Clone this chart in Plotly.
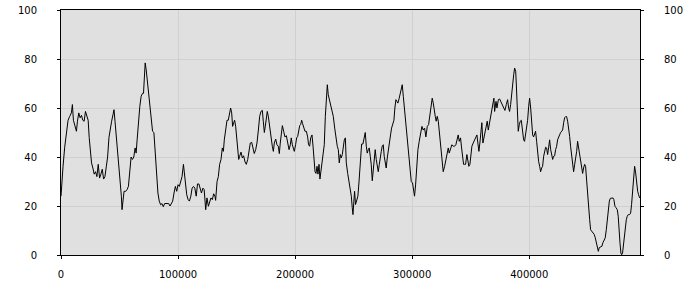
import plotly.graph_objects as go

# x positions in thousands, values 0-100
x_a = [0, 0.86, 1.72, 3.15, 4.58, 6.02, 7.45, 8.88, 9.74, 10.6, 11.75, 13.18, 14.04, 15.18, 16.33, 17.48, 18.62, 19.77, 20.91, 22.06, 23.2, 24.07, 24.93, 26.07, 27.22, 28.36, 29.51, 30.66, 31.8, 32.95, 34.09, 35.24, 36.39, 37.53, 38.68, 39.82, 40.97, 42.12, 43.26, 44.41, 45.27, 46.13, 47.27, 48.42, 49.56, 50.71, 51.57, 52.14, 53.0, 53.86, 55.29, 56.44, 57.59, 58.73, 59.88, 61.02, 62.17, 63.32, 64.18, 65.04, 66.18, 67.33, 68.47, 69.62, 70.48, 71.34, 71.91, 72.77, 73.63, 74.78, 75.92, 77.07, 78.21, 79.36, 80.51, 81.65, 82.8, 83.94, 85.09, 86.24, 87.38, 88.53, 89.67, 90.82, 91.97, 93.11, 94.26, 95.4, 96.55, 97.7, 98.84, 99.99, 101.1, 102.3, 103.4, 104.6, 105.4, 106.3, 107.4, 108.6, 109.7, 110.9, 112.0, 113.2, 114.3, 115.5, 116.6, 117.8, 118.9, 120.0, 121.2, 122.3]
y_a = [24, 31, 36, 44, 50, 55, 56.6, 58, 61.4, 55, 53, 50.5, 54.6, 58, 56, 57, 55, 54.6, 58.6, 56.6, 55, 48, 41.6, 37.6, 35.5, 33, 34, 32, 37, 31.4, 33, 35, 31, 32, 36, 40, 48, 52.5, 54.6, 57.3, 59.3, 54.6, 48, 44, 37.6, 31, 24, 18.5, 22.6, 26, 26, 26.7, 28, 35, 40, 39, 40, 43.7, 41.6, 47, 55, 60.7, 64.8, 66, 66, 74, 78.4, 75.6, 71.6, 66, 60, 55, 50.5, 50, 40, 31, 25.3, 22, 20.5, 21, 19.7, 21, 21, 21, 21, 20, 21, 22, 25.3, 28, 26, 28.7, 28, 30, 32, 37, 34, 29, 24.6, 22.6, 22, 24, 27.3, 28, 27.3, 24, 29, 29, 26.7, 25.3, 27.3, 26.7]

x_b = [123.6, 124.7, 125.9, 127.0, 128.1, 129.3, 130.4, 131.5, 132.1, 133.3, 134.4, 135.5, 136.7, 137.8, 138.7, 139.5, 140.7, 141.8, 142.9, 144.1, 144.9, 145.8, 146.6, 147.5, 148.3, 149.2, 150.1, 150.9, 151.8, 152.6, 153.8, 154.9, 156.0, 157.2, 158.3, 159.5, 160.6, 161.7, 162.9, 164.0, 165.1, 166.3, 167.4, 168.6, 169.7, 170.8, 172.0, 172.8, 173.7, 174.5, 175.4, 176.2, 177.1, 178.2, 179.4, 180.5, 181.4, 182.2, 183.4, 184.5, 185.6, 186.5, 187.3, 188.2, 189.1, 190.2, 191.3, 192.5, 193.6, 194.8, 195.9, 196.7, 197.6, 198.5, 199.3, 200.4, 201.3, 202.2, 203.0, 203.9, 204.7, 205.6, 206.4, 207.3, 208.4, 209.6, 210.7, 211.5, 212.4, 213.3, 214.4, 215.3, 216.1, 217.0, 217.8, 218.7, 219.5, 220.4, 221.2, 222.1, 222.9, 223.8, 224.9, 225.8, 226.6, 227.5, 228.3, 229.2, 230.3, 231.5, 232.6, 233.8, 234.9, 236.0, 236.9, 237.7, 238.6, 239.4, 240.3, 241.2, 242.0, 242.9, 243.7, 244.9, 246.0]
y_b = [18.5, 23.3, 19.9, 21.9, 23.3, 22.6, 25, 24, 22.3, 30, 32, 37, 39, 43.7, 42.3, 47, 51, 55, 55, 58, 60, 58, 52.5, 54, 55, 52.5, 47, 41, 39, 40.3, 42, 39.6, 40.5, 38, 37, 39, 42.3, 45.7, 46, 43, 41.4, 43, 45.7, 51, 56.6, 58.6, 59, 54.6, 50, 52.5, 57.3, 58.6, 56.6, 51.8, 48.4, 44.4, 42.3, 45.7, 47.3, 45, 44.4, 41.4, 45.7, 50, 52.8, 50.5, 48.2, 48.7, 46.4, 43, 45, 47.8, 45, 43, 42.3, 45, 47.8, 48.4, 50.5, 52.8, 53.2, 55, 53.6, 51.8, 50.5, 50.5, 48.2, 45, 44.4, 47.8, 49, 44.4, 37, 34, 33.3, 36.2, 33, 37, 31, 34, 37, 40.3, 45, 56.6, 63.4, 69.5, 65.4, 63.4, 62, 58.6, 56.6, 51.8, 47.8, 44.4, 43, 37.6, 41, 39.6, 41, 45, 47, 47.8, 37.6, 33.3, 30]

x_c = [246.8, 248.0, 248.8, 249.4, 250.2, 250.8, 251.6, 252.8, 253.6, 254.5, 255.3, 255.9, 256.8, 257.9, 259.1, 259.9, 260.8, 261.6, 262.5, 263.3, 264.2, 265.0, 265.9, 266.7, 267.6, 268.4, 269.3, 270.2, 271.0, 271.9, 272.7, 273.6, 274.4, 275.3, 276.1, 277.0, 277.8, 278.7, 279.5, 280.4, 281.5, 282.4, 283.5, 284.4, 285.2, 286.1, 286.9, 287.8, 288.9, 289.8, 290.7, 291.5, 292.4, 293.5, 294.6, 295.8, 296.9, 298.1, 299.2, 300.3, 301.2, 302.0, 302.9, 303.7, 304.9, 306.0, 307.2, 308.3, 309.4, 310.6, 311.7, 312.9, 314.0, 315.1, 316.3, 317.1, 318.0, 318.8, 319.7, 320.5, 321.4, 322.3, 323.1, 324.0, 324.8, 325.7, 326.5, 327.7, 328.8, 329.9, 330.8, 331.6, 332.8, 333.9, 335.1, 336.2, 337.3, 338.5, 339.3, 340.2, 341.3, 342.2, 343.0, 343.9, 344.7, 345.6, 346.7, 347.6, 348.4, 349.3, 350.1, 351.0, 352.1, 353.3, 354.4, 355.3, 356.1, 357.0, 357.8, 358.7, 359.5, 360.4, 361.3, 362.1, 363.0, 364.1, 365.0, 365.8, 366.7, 367.5, 368.4, 369.2, 369.8]
y_c = [26.7, 24, 19.3, 16.5, 22, 26, 20.6, 22.6, 24, 29.4, 37, 41.6, 45.3, 45.3, 47.8, 50, 44.4, 41.6, 43, 43.7, 40.3, 37, 30.3, 35.5, 40.3, 43, 39, 37, 34, 37, 40.3, 42.3, 44.4, 45, 40.3, 37, 35.5, 39.6, 43, 47, 49, 51.8, 53.2, 55, 60, 63.4, 62.7, 62, 64, 66, 66.8, 69.5, 64.8, 59.3, 52.5, 45.7, 40.3, 33.5, 30, 29.4, 26.7, 24, 28.6, 36.2, 43, 46.4, 49, 52.5, 51, 51.8, 48.2, 52.5, 53.2, 57.3, 60.7, 64, 62, 58.6, 56.6, 54.6, 56.6, 54.6, 51, 47, 42.3, 37.6, 34, 36.2, 39, 41.6, 43.7, 41.6, 43, 45, 44.4, 44.4, 45, 47, 49, 46.4, 47.8, 43.7, 40.3, 37, 37, 37, 41, 39, 36.2, 37, 40.3, 44.4, 45.7, 47, 48.7, 49, 45.7, 42.3, 45.7, 50, 54, 45.7, 47.8, 48.4, 51, 54.6, 51, 53.2, 54.6, 56.6, 59.3, 61.4, 64]

x_d = [370.4, 371.6, 372.4, 373.6, 374.7, 375.8, 377.0, 378.1, 379.2, 380.4, 381.5, 382.4, 383.2, 384.1, 384.9, 385.8, 386.7, 387.5, 388.4, 388.9, 389.5, 390.1, 390.6, 391.5, 392.3, 393.2, 394.1, 395.2, 396.0, 396.9, 397.8, 398.6, 399.5, 400.3, 401.2, 402.0, 402.9, 403.7, 404.6, 405.4, 406.3, 407.1, 408.0, 408.9, 409.7, 410.6, 411.4, 412.3, 413.1, 414.0, 414.8, 415.7, 416.5, 417.4, 418.3, 419.1, 420.0, 420.8, 421.7, 422.5, 423.4, 424.2, 425.1, 425.9, 426.8, 427.6, 428.5, 429.4, 430.2, 431.1, 431.9, 432.8, 433.6, 434.5, 435.3, 436.2, 437.0, 437.9, 438.8, 439.6, 440.5, 441.3, 442.2, 443.0, 443.9, 444.7, 445.6, 446.4, 447.3, 448.1, 449.0, 449.9, 450.7, 451.6, 452.4, 453.3, 454.4, 455.5, 456.4, 457.3, 458.1, 459.0, 459.8, 460.9, 462.1, 462.9, 464.1, 464.9, 465.8, 466.7, 467.5, 468.4, 469.2, 470.4, 471.5, 472.3, 473.2, 474.1, 475.2, 476.0, 476.6, 477.5, 478.3, 478.9, 479.7, 480.3, 481.2, 482.0, 482.9, 483.7, 484.6, 485.7, 486.6, 487.4, 488.3, 489.1, 490.0, 490.9, 491.7, 492.6, 493.4, 494.3]
y_d = [58.6, 62.7, 60, 63.4, 63.7, 62.7, 61.4, 60, 59, 61.4, 63.4, 60, 58.6, 61.4, 66, 70.9, 73.6, 76.3, 75, 70.2, 64.8, 56.6, 50.5, 53.2, 54.6, 55, 50.5, 47, 46.4, 49, 51, 55, 60.7, 64, 60, 54, 49, 48.2, 50, 50.5, 46.4, 41.6, 38.2, 36.2, 34, 35.5, 36.2, 40.3, 43, 44, 43.7, 41, 43.7, 47, 43, 40.3, 39, 40.3, 40.5, 43, 44.4, 47, 48.4, 49, 50, 50.5, 51, 54, 56, 56.5, 56.5, 54.6, 52.3, 48.4, 44.4, 40.3, 36.2, 34, 37, 39, 42.3, 46.4, 43.7, 43, 40.3, 37, 33.3, 35.5, 37, 36.2, 29.4, 24, 19.3, 14.4, 10.3, 9.7, 9.3, 8.4, 7, 5, 3, 1.5, 3, 3.3, 3.6, 5, 6.3, 7, 10.3, 14.4, 19.3, 22, 23.1, 23.3, 23.3, 22.6, 19.9, 19.3, 18.5, 15.8, 10.3, 5, 0.8, 0.1, 0.8, 3.5, 7.6, 10.3, 14.4, 15.8, 16.5, 16.5, 17.1, 20.6, 25.3, 31.4, 36.2, 33.5, 29.4, 26, 24.6, 23.3]

x_tick_vals = [0, 100000, 200000, 300000, 400000]
y_tick_vals = [0, 20, 40, 60, 80, 100]
x_max = 494600

x_vals = [v * 1000 for v in (x_a + x_b + x_c + x_d)]
y_vals = y_a + y_b + y_c + y_d

font = dict(family="DejaVu Sans", size=10, color="#000000")

fig = go.Figure()
fig.add_trace(go.Scatter(x=x_vals, y=y_vals, mode="lines",
                         line=dict(color="#000000", width=1), showlegend=False,
                         hoverinfo="skip"))
fig.add_trace(go.Scatter(x=x_vals, y=y_vals, mode="lines", yaxis="y2",
                         line=dict(color="rgba(0,0,0,0)", width=0), showlegend=False,
                         hoverinfo="skip"))

fig.update_layout(
    width=700, height=300,
    margin=dict(l=61, r=60, t=10, b=45, autoexpand=False),
    paper_bgcolor="#ffffff",
    plot_bgcolor="#e0e0e0",
    font=font,
    xaxis=dict(range=[0, x_max], tickvals=x_tick_vals, ticktext=[str(v) for v in x_tick_vals],
               showgrid=True, gridcolor="#d0d0d0", gridwidth=1, zeroline=False,
               showline=True, linecolor="#000000", linewidth=1, mirror=True,
               ticks="outside", ticklen=3, tickcolor="#000000", tickfont=font,
               ticklabelstandoff=7, automargin=False),
    yaxis=dict(range=[0, 100], tickvals=y_tick_vals, showgrid=True, gridcolor="#d0d0d0",
               gridwidth=1, zeroline=False, showline=True, linecolor="#000000", linewidth=1,
               mirror=True, ticks="outside", ticklen=3, tickcolor="#000000", tickfont=font,
               ticklabelstandoff=18, automargin=False),
    yaxis2=dict(range=[0, 100], tickvals=y_tick_vals, overlaying="y", side="right",
                showgrid=False, zeroline=False, showline=False,
                ticks="outside", ticklen=3, tickcolor="#000000", tickfont=font,
                ticklabelstandoff=18, automargin=False),
)

fig.write_html("out.html")
